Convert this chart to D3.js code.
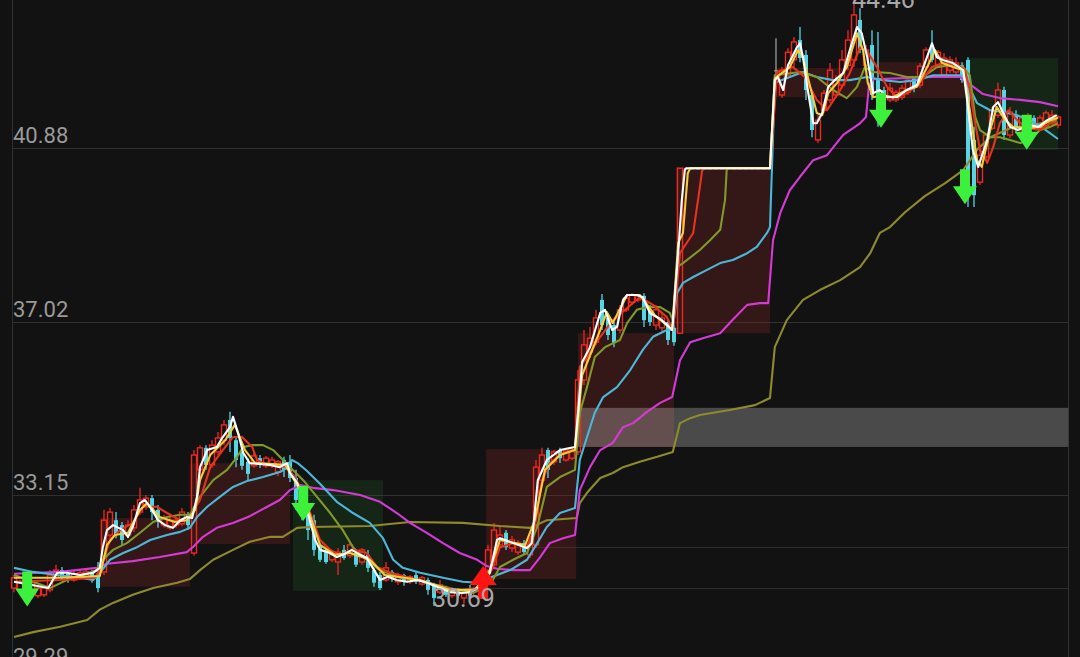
<!DOCTYPE html>
<html><head><meta charset="utf-8">
<script src="https://cdn.jsdelivr.net/npm/d3@7"></script>
<style>
html,body{margin:0;padding:0;background:#121212;overflow:hidden}
svg{display:block}
</style></head><body>
<svg id="c" width="1080" height="657"></svg>
<script>
// ---------------- data ----------------
const yTicks = [40.88, 37.02, 33.15, 29.29];
const levelLines = [32.00, 31.09];      // extra horizontal levels (start at position 78.7)
// [open, high, low, close]
const candles = [
[31.09,31.38,31.00,31.32],[31.05,31.27,31.00,31.23],[31.27,31.32,31.00,31.09],[31.05,31.27,31.00,31.21],
[30.92,31.16,30.87,31.09],[30.94,31.14,30.89,31.09],[31.05,31.49,31.00,31.38],[31.32,31.61,31.27,31.49],
[31.49,31.56,31.27,31.34],[31.41,31.45,31.21,31.27],[31.27,31.47,31.23,31.41],[31.32,31.49,31.27,31.43],
[31.34,31.49,31.29,31.45],[31.43,31.49,31.21,31.27],[31.41,31.67,31.00,31.09],[31.45,32.83,31.38,32.60],
[32.27,32.87,32.16,32.78],[32.60,32.78,32.20,32.27],[32.49,32.56,32.05,32.16],[32.27,32.60,32.20,32.49],
[32.43,32.94,32.34,32.83],[32.78,33.32,32.72,33.05],[32.94,33.16,32.83,33.09],[33.09,33.16,32.60,32.78],
[32.83,32.94,32.43,32.56],[32.49,32.72,32.43,32.65],[32.43,32.72,32.38,32.60],[32.49,32.67,32.43,32.60],
[32.52,32.87,32.47,32.78],[32.72,32.78,32.38,32.49],[31.87,34.16,31.81,34.05],[33.72,34.27,33.54,34.21],
[34.21,34.27,33.72,33.83],[33.83,34.38,33.76,34.27],[34.12,34.56,34.05,34.43],[34.38,34.83,34.27,34.72],
[34.83,35.01,34.12,34.43],[34.38,34.45,33.78,33.94],[34.12,34.21,33.72,33.81],[33.90,33.98,33.49,33.63],
[33.81,34.10,33.76,34.03],[33.98,34.05,33.76,33.83],[33.81,34.03,33.76,33.98],[33.81,34.01,33.76,33.94],
[33.67,33.94,33.58,33.90],[33.94,34.01,33.56,33.72],[33.90,34.05,33.45,33.54],[33.54,33.72,32.83,33.05],
[33.23,33.38,32.60,32.72],[32.83,32.94,32.16,32.38],[32.60,32.72,31.81,31.94],[32.05,32.09,31.67,31.72],
[31.89,31.98,31.63,31.67],[31.72,31.94,31.67,31.85],[31.67,31.98,31.38,31.89],[31.94,32.05,31.72,31.76],
[31.81,32.12,31.76,32.05],[31.87,31.94,31.56,31.61],[31.67,31.98,31.61,31.94],[31.83,31.94,31.45,31.54],
[31.49,31.54,31.12,31.21],[31.38,31.45,31.05,31.09],[31.27,31.67,31.23,31.54],[31.45,31.49,31.23,31.32],
[31.23,31.43,31.16,31.36],[31.38,31.41,31.14,31.23],[31.23,31.38,31.18,31.34],[31.38,31.45,31.18,31.23],
[31.18,31.36,31.14,31.32],[31.27,31.32,30.94,31.05],[31.16,31.21,30.69,30.87],[31.00,31.27,30.96,31.16],
[31.09,31.14,30.89,30.94],[30.92,31.09,30.87,31.05],[31.05,31.09,30.87,30.92],[30.87,31.05,30.74,31.00],
[31.05,31.16,30.87,30.92],[30.92,31.12,30.87,31.05],[31.00,31.38,30.94,31.27],[31.49,32.05,31.45,31.94],
[31.61,32.54,31.54,32.38],[32.05,32.49,31.98,32.27],[32.32,32.38,31.94,32.00],[31.98,32.25,31.89,32.16],
[31.89,32.16,31.83,32.09],[32.09,32.16,31.83,31.89],[31.83,32.16,31.76,32.05],[32.05,33.94,31.98,33.78],
[33.49,34.21,33.45,34.05],[34.16,34.21,33.54,33.72],[33.90,34.16,33.83,34.12],[34.16,34.21,33.87,33.98],
[33.94,34.21,33.90,34.16],[33.98,34.21,33.94,34.16],[34.12,35.94,34.05,35.72],[35.72,36.83,35.61,36.50],
[36.34,36.90,36.21,36.65],[36.56,37.28,36.50,37.10],[37.50,37.63,36.83,36.94],[37.10,37.16,36.61,36.72],
[36.94,37.01,36.45,36.54],[36.83,37.39,36.76,37.28],[37.28,37.61,37.23,37.54],[37.45,37.65,37.39,37.61],
[37.50,37.63,37.45,37.59],[37.59,37.65,36.90,37.05],[37.28,37.39,36.92,37.01],[36.94,37.39,36.83,37.28],
[36.88,37.23,36.79,37.10],[37.01,37.05,36.50,36.61],[36.88,36.94,36.48,36.56],[36.76,40.43,36.74,40.43],
[40.43,40.43,40.43,40.43],[40.43,40.43,40.43,40.43],[40.43,40.43,40.43,40.43],[40.43,40.43,40.43,40.43],
[40.43,40.43,40.43,40.43],[40.43,40.43,40.43,40.43],[40.43,40.43,40.43,40.43],[40.43,40.43,40.43,40.43],
[40.43,40.43,40.43,40.43],[40.43,40.43,40.43,40.43],[40.43,40.43,40.43,40.43],[40.43,40.43,40.43,40.43],
[40.43,40.43,40.43,40.43],[40.43,40.43,40.43,40.43],[40.43,40.43,40.43,40.43],[42.61,43.32,42.24,42.61],
[42.06,42.68,41.99,42.61],[42.50,43.10,42.43,43.01],[42.84,43.35,42.68,43.24],[43.28,43.57,42.79,42.88],
[42.95,43.06,41.95,42.17],[42.06,42.12,41.12,41.28],[41.06,41.61,40.99,41.50],[41.72,42.17,41.66,42.10],
[41.95,42.77,41.88,42.61],[42.06,42.50,41.99,42.39],[42.28,43.06,42.21,42.84],[42.72,43.50,42.61,43.28],
[42.84,44.46,42.68,43.84],[43.73,43.99,42.99,43.06],[42.72,43.17,42.66,43.06],[43.17,43.50,41.95,42.06],
[42.39,43.46,41.35,41.95],[42.17,42.24,41.68,41.77],[41.95,42.33,41.90,42.21],[41.95,42.17,41.90,42.12],
[42.01,42.28,41.95,42.21],[42.12,42.46,42.06,42.39],[42.43,42.46,42.12,42.21],[42.28,42.77,42.21,42.70],
[42.68,43.12,42.61,43.06],[43.17,43.50,42.79,42.84],[42.72,43.06,42.66,43.01],[42.50,42.99,42.46,42.88],
[42.61,42.92,42.55,42.84],[42.57,42.90,42.50,42.77],[42.72,42.79,42.33,42.39],[42.84,42.90,39.57,39.94],
[41.06,41.35,39.57,39.83],[40.12,40.84,40.06,40.72],[40.68,41.21,40.61,41.17],[41.32,41.79,41.28,41.72],
[41.61,42.33,41.55,42.17],[42.17,42.24,41.06,41.17],[41.17,41.79,41.10,41.68],[41.61,41.72,41.21,41.32],
[41.28,41.61,41.21,41.55],[41.32,41.66,41.26,41.57],[41.55,41.61,41.28,41.35],[41.32,41.61,41.26,41.55],
[41.37,41.72,41.28,41.66],[41.46,41.72,41.35,41.61],[41.39,41.61,41.32,41.57]
];
// moving-average lines, read as [candle position, price]
const maWhite = [[0,31.23],[3,31.16],[5.7,31.09],[7.2,31.43],[8.8,31.43],[11,31.38],[13.2,31.43],[14.3,31.54],[14.8,32.00],[15.5,32.38],[16.5,32.49],[18.2,32.38],[19,32.23],[19.8,32.45],[21,32.98],[21.8,33.05],[23,32.83],[24,32.60],[25.2,32.49],[26.5,32.43],[27.7,32.60],[28.8,32.67],[29.7,32.65],[30.5,33.12],[31,33.78],[32.2,34.16],[33.8,34.23],[34.8,34.45],[36,34.67],[36.5,34.90],[37.3,34.56],[38.2,34.10],[39.3,33.87],[42.7,33.83],[44.3,33.78],[45.5,33.87],[46,33.65],[47.2,33.43],[48.2,33.12],[49.3,32.60],[50.2,32.16],[51,31.94],[52.3,31.89],[53.8,31.78],[54.8,31.83],[56.3,31.94],[57.7,31.83],[58.8,31.76],[59.8,31.54],[61,31.27],[62.3,31.34],[63.8,31.27],[65.5,31.23],[67.2,31.27],[68.8,31.21],[70.5,31.12],[72.7,31.00],[74.7,30.98],[76,31.00],[77.7,31.12],[79.3,31.43],[80.5,32.16],[81,32.20],[83.2,32.09],[85.5,31.98],[86.3,32.09],[87.3,33.49],[88.8,33.94],[91,34.16],[93.5,34.23],[94,34.99],[94.7,36.12],[96,36.45],[97.7,37.21],[98.5,37.28],[99.7,36.83],[100.5,36.90],[101.5,37.50],[102.2,37.61],[103.8,37.61],[104.8,37.56],[106,37.21],[108,37.05],[109.7,36.83],[110.7,38.54],[111.3,39.72],[111.8,40.39],[112,40.43],[126,40.43],[126.8,42.39],[127.3,42.46],[128.2,42.17],[129,42.72],[130.5,43.12],[131,43.21],[131.5,42.90],[132.3,42.17],[133.2,41.43],[133.8,41.43],[134.7,41.66],[135.7,42.24],[136.8,42.39],[138.2,42.55],[139.3,43.06],[140.5,43.57],[141.3,43.43],[142.2,42.90],[143.2,42.10],[144.3,42.17],[145.5,42.01],[147.2,42.01],[148.8,42.17],[150.5,42.28],[151.8,42.77],[153,43.21],[153.8,42.90],[154.8,42.84],[156.5,42.77],[158.2,42.61],[159,41.79],[159.8,40.84],[160.7,40.46],[162.2,41.06],[163.2,41.79],[164,41.90],[165.2,41.57],[166,41.35],[167.3,41.28],[169.3,41.39],[170.7,41.35],[172.2,41.50],[173.8,41.61]];
const maYellow = [[0,31.32],[7.7,31.32],[14.3,31.36],[15.5,32.05],[16.8,32.27],[19,32.32],[21,32.83],[22.2,32.98],[24.3,32.67],[26.8,32.56],[28.8,32.60],[30.2,32.83],[31,33.49],[32.7,34.05],[35.2,34.38],[36.8,34.72],[38.5,34.16],[40.2,33.87],[45.2,33.83],[47.7,33.27],[49.3,32.72],[51,32.05],[53.5,31.83],[56,31.87],[59.3,31.72],[61.8,31.38],[67.7,31.27],[72.7,31.05],[76.8,31.05],[79.3,31.49],[81,32.16],[85.2,32.05],[86.8,32.60],[88.5,33.72],[91,34.05],[93.5,34.16],[94.7,35.83],[97.7,36.83],[98.8,37.23],[99.8,36.99],[102.2,37.61],[104.3,37.61],[106.8,37.16],[109.7,36.83],[110.7,38.77],[111.5,38.99],[112.3,40.32],[112.7,40.43],[126,40.43],[126.8,42.43],[129.3,42.68],[130.7,43.06],[131.5,42.90],[132.7,42.24],[133.8,41.66],[134.7,41.61],[135.7,42.10],[137.2,42.33],[138.8,42.68],[140.5,43.43],[141.5,43.06],[142.3,42.33],[143.2,42.01],[144.8,42.06],[146.5,42.01],[148.8,42.17],[150.5,42.24],[152.2,42.68],[153.5,43.06],[154.7,42.77],[156.5,42.68],[158.2,42.61],[159.3,41.72],[160.5,40.61],[161.3,40.46],[162.7,41.28],[163.8,41.79],[165.2,41.50],[166.5,41.35],[168.8,41.32],[171,41.35],[172.7,41.50],[174,41.55]];
const maRed = [[0,31.23],[7.7,31.27],[13.5,31.32],[14.3,31.49],[16,32.16],[17.7,32.38],[19.8,32.54],[21.5,32.90],[23.8,32.90],[25.5,32.76],[27.7,32.60],[29.3,32.67],[31,33.05],[32.7,33.78],[34.8,34.16],[36.5,34.45],[38,34.45],[39.7,34.23],[40.5,33.94],[41.5,33.87],[43.2,33.83],[45.5,33.78],[46.8,33.56],[48.2,33.21],[49.8,32.60],[51,32.16],[52.7,31.94],[54.3,31.83],[56.5,31.94],[58.8,31.87],[60.5,31.56],[62.7,31.43],[66,31.32],[68.8,31.21],[71.5,31.09],[74.8,31.05],[77.2,31.09],[78.8,31.27],[79.8,31.56],[81,32.00],[83.2,32.09],[85.5,32.00],[86.8,32.45],[88,33.49],[89.3,33.87],[91.5,34.10],[93.5,34.16],[94.3,36.01],[95.5,36.23],[97.7,36.68],[99.8,37.05],[102.2,37.32],[104.3,37.56],[106.5,37.39],[108.8,37.12],[109.8,36.83],[111,38.54],[113.2,38.99],[114,39.72],[114.7,40.39],[115.2,40.43],[126,40.43],[127.2,42.57],[129.8,42.68],[131.8,42.46],[133.8,41.95],[135.5,41.72],[137.7,42.17],[139.3,42.55],[141,43.12],[142.3,43.01],[143.8,42.68],[145.5,42.24],[147.2,42.01],[148.8,42.10],[151,42.33],[153,42.68],[154.8,42.77],[157.2,42.72],[158.5,42.61],[159.3,42.17],[160.2,41.43],[161,40.84],[162.2,40.55],[163.2,40.90],[164.3,41.43],[165.7,41.72],[167.2,41.50],[168.8,41.32],[171,41.28],[172.7,41.43],[174,41.46]];
const maGreen = [[0,31.38],[3.2,31.23],[6,31.09],[8.8,31.27],[11.5,31.38],[13.8,31.49],[14.8,31.72],[16.5,31.94],[18.8,32.09],[21,32.32],[23.2,32.56],[25.5,32.67],[27.7,32.72],[29.3,32.72],[31,33.12],[33.2,33.49],[35.5,33.72],[37.2,34.01],[38.2,34.23],[39.8,34.27],[41.5,34.27],[43.2,34.16],[44.3,34.01],[46,33.78],[48.2,33.49],[50.5,33.12],[52.7,32.76],[54.8,32.38],[56.5,32.00],[58.8,31.72],[61,31.49],[63.8,31.34],[67.2,31.27],[70.5,31.16],[73.8,31.05],[76.5,30.98],[78.2,31.09],[79.8,31.27],[81,31.56],[83.2,31.72],[85.5,31.87],[87.2,32.45],[88.8,33.34],[91,33.56],[93.5,33.72],[94.3,34.99],[95.5,35.56],[96.8,36.23],[98.5,36.45],[101,36.61],[102.2,36.99],[103.8,37.28],[105.5,37.34],[107.7,37.34],[109.3,37.21],[109.8,37.05],[110.5,38.23],[111.5,38.32],[114.3,38.61],[116,38.83],[117.7,39.06],[118.5,39.72],[118.8,40.43],[126,40.43],[126.8,42.50],[131,42.57],[133.8,42.46],[136.5,42.17],[138.8,41.99],[140.5,42.24],[141.8,42.68],[143.2,42.57],[146,42.55],[148.8,42.46],[151.5,42.46],[153.8,42.68],[156,42.72],[158.2,42.68],[159.3,42.50],[160.2,41.57],[161,41.28],[162.7,41.12],[164.3,41.12],[166,41.06],[167.7,40.99],[169.3,41.06],[171,41.28],[172.7,41.35],[174,41.43]];
const maCyan = [[0,31.54],[3.2,31.45],[7.2,31.38],[11,31.32],[13.2,31.27],[14.3,31.43],[16,31.72],[18.2,31.87],[20.5,32.00],[22.7,32.16],[25.5,32.27],[27.7,32.34],[29.3,32.43],[30.5,32.67],[32.2,32.90],[34.3,33.12],[36.5,33.34],[38.8,33.47],[41.5,33.56],[44.3,33.67],[45.5,33.76],[46.3,33.94],[47.3,33.87],[48.8,33.70],[51,33.41],[53.8,33.01],[56.5,32.76],[59.3,32.54],[61.5,32.20],[63.2,31.72],[64.8,31.54],[67.7,31.43],[71.5,31.32],[74.8,31.23],[77.2,31.21],[79.3,31.32],[82.7,31.49],[85.5,31.72],[87.2,32.09],[88.8,32.45],[91,32.76],[93.5,32.87],[94.3,33.94],[95.5,34.45],[96.8,34.99],[98.2,35.34],[100.5,35.56],[102.7,35.94],[104.8,36.39],[106.5,36.68],[108.8,36.83],[109.8,36.83],[110.5,37.65],[111.5,37.88],[113.2,38.01],[115.5,38.17],[117.7,38.32],[119.8,38.39],[122.2,38.54],[123.8,38.68],[125.5,38.99],[126,39.12],[126.8,42.33],[129.3,42.46],[131.5,42.57],[133.8,42.46],[136.5,42.39],[139.3,42.39],[142.2,42.46],[144.8,42.39],[147.7,42.35],[150.5,42.39],[153.2,42.50],[156,42.50],[158.2,42.50],[159.3,42.21],[160.5,41.88],[162.7,41.72],[164.8,41.68],[167.2,41.61],[169.3,41.50],[171.5,41.32],[174,41.08]];
const maMagenta = [[0,31.41],[7.7,31.45],[13.8,31.54],[15.5,31.63],[19.8,31.69],[24.3,31.78],[28.8,31.89],[29.8,32.00],[31.5,32.23],[33.8,32.43],[36.5,32.54],[39.3,32.69],[42.2,32.90],[44.3,33.05],[46,33.27],[47.7,33.38],[49.8,33.32],[53.2,33.27],[57.7,33.16],[61,33.01],[63.8,32.76],[66,32.54],[68.8,32.32],[71.5,32.09],[74.3,31.87],[77.2,31.72],[78.8,31.58],[80.5,31.52],[83.2,31.49],[86,31.49],[87.7,31.78],[89.3,32.09],[91.5,32.20],[93.5,32.27],[94.3,33.27],[96,33.78],[97.7,34.16],[99.8,34.32],[101.5,34.67],[103.2,34.76],[105.5,35.01],[107.7,35.21],[109.7,35.34],[111,36.16],[112.7,36.56],[114.8,36.65],[117.7,36.76],[119.7,37.05],[122.2,37.39],[124.3,37.43],[125.7,37.43],[126.5,38.83],[127.7,39.43],[129.3,39.94],[131,40.24],[133.2,40.61],[135.5,40.72],[138.2,41.17],[141,41.43],[142,41.57],[142.5,42.28],[143.2,42.41],[147.7,42.43],[153.2,42.46],[157.7,42.46],[159.3,42.30],[161.5,42.08],[164.3,41.99],[167.7,41.95],[171,41.90],[174,41.81]];
const maKhaki = [[0,30.00],[3.2,30.11],[7.7,30.23],[12.2,30.38],[14.3,30.61],[16.5,30.76],[19.8,30.94],[23.2,31.09],[27.2,31.21],[29.3,31.29],[31,31.49],[33.2,31.72],[36.5,31.94],[39.3,32.12],[42.7,32.23],[44.8,32.23],[47.2,32.43],[49.3,32.45],[59.3,32.47],[66,32.56],[74.8,32.54],[81,32.47],[86,32.43],[88.8,32.60],[93.8,32.65],[94.3,32.98],[95.5,33.21],[97.7,33.54],[99.8,33.65],[101.5,33.78],[104.3,33.90],[107.2,34.01],[109.8,34.12],[111,34.76],[112.7,34.87],[114.3,34.94],[119.3,35.05],[123.5,35.16],[126,35.32],[126.8,36.45],[128.8,37.05],[131.5,37.50],[134.3,37.72],[137.7,37.94],[141,38.23],[142.7,38.54],[144.3,38.99],[146,39.12],[148.5,39.45],[151.8,39.81],[155.2,40.10],[158.2,40.39],[160.5,40.84],[162.7,41.12],[166,41.32],[169.8,41.39],[173.8,41.50]];
// zones: [start position, end position, top price, bottom price]
const redZones = [[14.3,29.3,32.65,31.12],[29.3,46,33.87,32.07],[78.7,93.7,34.18,31.29],[94,110,36.76,34.23],[110.3,126,40.46,36.76],[126.8,142.7,42.66,42.01],[142.7,158.5,42.79,41.99]];
const greenZones = [[46.5,61.5,33.49,31.03],[159,174,42.88,40.84]];
const grayBand = [94,175.7,35.10,34.23];
// signal arrows: [position, tip price]
const sellArrows = [[2.2,30.68],[48.2,32.58],[144.5,41.33],[158.5,39.63],[168.8,40.84]];
const buyArrows = [[78.2,31.58]];
const extremes = [{i:140, kind:"high", text:"44.46"}, {i:70, kind:"low", text:"30.69"}];

// ---------------- drawing ----------------
const svg = d3.select("#c");
const x = d3.scaleLinear().domain([0,175]).range([14,1064]);
const y = d3.scaleLinear().domain([29.29,40.88]).range([669,148]);
const L = 12, R = 1068;

svg.append("rect").attr("width",1080).attr("height",657).attr("fill","#121212");

// grid
svg.selectAll("line.grid").data(yTicks).join("line")
  .attr("x1",L).attr("x2",R).attr("y1",d=>Math.round(y(d))+0.5).attr("y2",d=>Math.round(y(d))+0.5)
  .attr("stroke","#303030").attr("stroke-width",1);
svg.selectAll("line.lvl").data(levelLines).join("line")
  .attr("x1",x(78.7)).attr("x2",R).attr("y1",d=>Math.round(y(d))+0.5).attr("y2",d=>Math.round(y(d))+0.5)
  .attr("stroke","#2c2c2c").attr("stroke-width",1);
[L,R].forEach(v=>svg.append("line").attr("x1",v+0.5).attr("x2",v+0.5).attr("y1",0).attr("y2",657)
  .attr("stroke","#303030").attr("stroke-width",1));

// zones
const zoneRect = (g, arr, fill) => g.selectAll(null).data(arr).join("rect")
  .attr("x",d=>x(d[0])).attr("width",d=>x(d[1])-x(d[0]))
  .attr("y",d=>y(d[2])).attr("height",d=>y(d[3])-y(d[2])).attr("fill",fill);
const gz = svg.append("g");
zoneRect(gz, redZones, "rgba(150,40,40,0.26)");
zoneRect(gz, greenZones, "rgba(40,120,40,0.2)");
zoneRect(gz, [grayBand], "rgba(255,255,255,0.24)");

// axis labels
svg.selectAll("text.tick").data(yTicks).join("text")
  .attr("x",13).attr("y",d=>y(d)-5).text(d=>d.toFixed(2))
  .attr("fill","#9a9a9a").attr("font-family","Roboto, sans-serif").attr("font-size",22);

// candles
const RED="#f0281e", CYAN="#56d6e4", GRAY="#9a9a9a";
const cw = 5;
const gc = svg.append("g");
candles.forEach((d,i)=>{
  const [o,h,l,c]=d;
  const cx = x(i);
  const col = c>o ? RED : (c<o ? CYAN : GRAY);
  const top = y(Math.max(o,c)), bot = y(Math.min(o,c));
  if (c>o) {
    gc.append("line").attr("x1",cx).attr("x2",cx).attr("y1",y(h)).attr("y2",top).attr("stroke",col).attr("stroke-width",1.3);
    gc.append("line").attr("x1",cx).attr("x2",cx).attr("y1",bot).attr("y2",y(l)).attr("stroke",col).attr("stroke-width",1.3);
    gc.append("rect").attr("x",cx-cw/2).attr("y",top).attr("width",cw).attr("height",Math.max(1,bot-top))
      .attr("fill","none").attr("stroke",col).attr("stroke-width",1.4);
  } else {
    gc.append("line").attr("x1",cx).attr("x2",cx).attr("y1",y(h)).attr("y2",y(l)).attr("stroke",col).attr("stroke-width",1.3);
    gc.append("rect").attr("x",cx-cw/2+0.5).attr("y",top).attr("width",cw-1).attr("height",Math.max(1.2,bot-top)).attr("fill",col);
  }
});

// moving averages
const line = d3.line().x(d=>x(d[0])).y(d=>y(d[1]));
const mas = [[maKhaki,"#8f8a2e"],[maMagenta,"#d63ad6"],[maCyan,"#4cb8d8"],[maGreen,"#7f9a2a"],[maRed,"#e8321e"],[maYellow,"#f2cf3a"],[maWhite,"#ffffff"]];
mas.forEach(([d,col])=>svg.append("path").datum(d).attr("d",line).attr("fill","none")
  .attr("stroke",col).attr("stroke-width",2.1).attr("stroke-linejoin","round"));

// arrows
const ga = svg.append("g");
sellArrows.forEach(([t,p])=>{
  const cx=x(t), ty=y(p);
  const pts=[[cx-5,ty-35],[cx+5,ty-35],[cx+5,ty-18],[cx+12,ty-18],[cx,ty],[cx-12,ty-18],[cx-5,ty-18]];
  ga.append("polygon").attr("points",pts.map(q=>q.join(",")).join(" ")).attr("fill","#3cf03c");
});
buyArrows.forEach(([t,p])=>{
  const cx=x(t), ty=y(p);
  const pts=[[cx,ty],[cx+13.5,ty+19],[cx+5,ty+19],[cx+5,ty+33],[cx-5,ty+33],[cx-5,ty+19],[cx-13.5,ty+19]];
  ga.append("polygon").attr("points",pts.map(q=>q.join(",")).join(" ")).attr("fill","#ff1414");
});

// extreme labels
extremes.forEach(e=>{
  const d=candles[e.i];
  const yy = e.kind==="high" ? y(d[1])+21 : y(d[2])+1;
  svg.append("text").attr("x",x(e.i)-2).attr("y",yy).text(e.text)
    .attr("fill","#a8a8a8").attr("font-family","Roboto, sans-serif").attr("font-size",25);
});
</script>
</body></html>
